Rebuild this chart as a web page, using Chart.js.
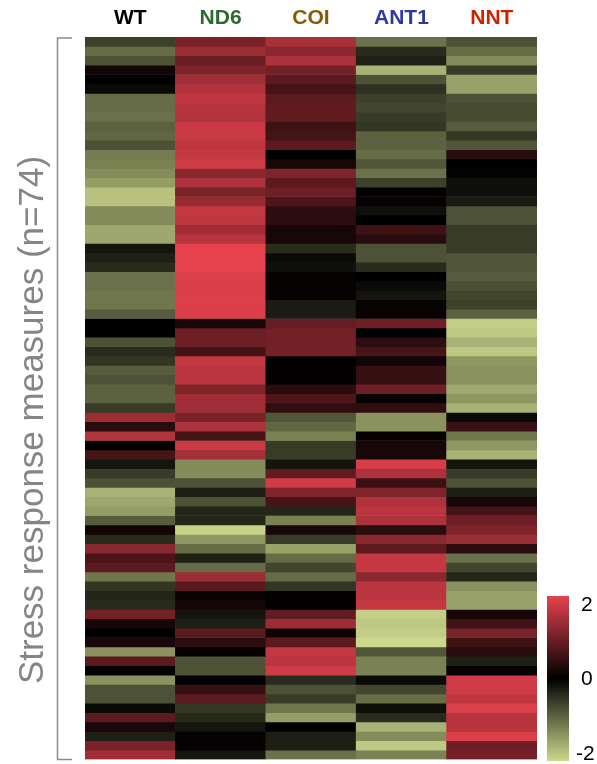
<!DOCTYPE html>
<html>
<head>
<meta charset="utf-8">
<script src="https://cdn.jsdelivr.net/npm/chart.js@4.4.1/dist/chart.umd.min.js"></script>
<style>
  html, body { margin: 0; padding: 0; background: #fff; }
  canvas { display: block; }
</style>
</head>
<body>
<canvas id="heat" width="597" height="764"></canvas>
<script>
// columns (strains) and the label colour of each
var strains = ["WT", "ND6", "COI", "ANT1", "NNT"];
var strainColors = ["#000000", "#2d6a2d", "#8b5a00", "#2b3a9c", "#cc2200"];

// z-scores per row, one list per strain (top row first)
var wt = [-0.6, -1.0, -0.75, 0.15, 0, -0.1, -1.0, -1.0, -1.05, -0.9, -0.95, -0.75, -1.15, -1.2, -1.3, -1.45, -1.8, -1.8, -1.3, -1.3,
  -1.55, -1.55, -0.2, -0.3, -0.4, -1.05, -1.05, -1.1, -1.1, -0.85, 0, 0, -0.75, -0.4, -0.5, -0.85, -0.75, -0.9, -0.9, -0.55,
  1.35, 0.35, 1.55, 0, 0.6, -0.2, -0.55, -0.75, -1.65, -1.55, -1.45, -0.85, 0.15, -0.4, 1.2, 0.65, 0.78, -1.1, -0.5, -0.35,
  -0.4, 1.0, 0.2, 0, 0.22, -1.35, 0.78, 0.03, -1.35, -0.75, -0.75, -0.1, 0.78, 0.22, -0.3, 1.05, 1.4];
var nd6 = [1.05, 1.35, 0.9, 1.1, 1.4, 1.55, 1.65, 1.6, 1.55, 1.75, 1.75, 1.65, 1.7, 1.8, 1.2, 1.5, 1.05, 1.3, 1.7, 1.65,
  1.4, 1.6, 2.0, 2.0, 2.0, 1.9, 1.9, 1.9, 1.9, 1.9, 0.2, 0.95, 0.95, 0.58, 1.7, 1.62, 1.62, 1.1, 1.4, 1.4,
  1.05, 1.5, 0.6, 1.75, 1.42, -1.3, -1.3, -0.75, -0.28, -0.75, -0.35, -0.35, -1.95, -1.4, -1.0, -0.3, -1.0, 1.35, 0.78, 0.08,
  0.2, -0.2, -0.3, 0.78, 0.38, 0.05, -0.75, -0.75, 0.03, 0.48, 0.78, -0.5, -0.38, -0.2, 0.03, 0.05, -0.2];
var coi = [1.45, 1.2, 1.5, 1.0, 0.8, 0.6, 0.8, 0.85, 0.85, 0.55, 0.58, 0.8, 0.02, 0.2, 1.1, 0.8, 0.95, 0.65, 0.4, 0.4,
  0.2, 0.2, -0.4, -0.1, -0.15, 0.05, 0.05, 0.05, -0.25, -0.25, 0.87, 1.0, 1.0, 1.0, 0.03, 0.03, 0.03, 0.35, 0.68, 0.42,
  -0.8, -0.95, -1.2, -0.55, -0.55, -0.2, 0.85, 1.8, 1.1, 0.6, -0.35, -1.2, 0.2, -0.55, -1.5, -1.0, -0.65, -1.0, -0.5, 0.03,
  0.03, 0.85, 1.35, 0.12, 0.78, 1.7, 1.62, 1.8, -0.4, -0.75, -0.55, -1.1, -1.45, 0.0, -0.28, -0.28, -1.05];
var ant1 = [-1.05, -0.4, -0.3, -1.65, -0.75, -0.45, -0.6, -0.65, -0.55, -0.5, -0.9, -0.9, -1.0, -0.8, -1.05, -0.6, 0.02, 0.05, -0.15, 0.0,
  0.55, 0.35, -0.75, -0.75, -0.4, 0.0, -0.1, -0.2, 0.07, 0.07, 0.95, 0, 0.4, 0.62, 0.15, 0.48, 0.48, 0.95, 0.05, 0.42,
  -1.35, -1.35, 0.05, 0.2, 0.2, 1.85, 1.5, 0.52, 1.1, 1.5, 1.62, 1.5, 0.35, 1.2, 0.8, 1.7, 1.7, 1.2, 1.62, 1.62,
  1.7, -1.9, -1.85, -1.9, -2.0, -0.8, -1.2, -1.2, -0.1, -0.65, -1.0, -0.15, -0.4, -1.65, -1.3, -1.85, -1.2];
var nnt = [-0.75, -1.0, -1.3, -0.55, -1.5, -1.5, -0.75, -0.7, -0.7, -0.85, -0.5, -0.8, 0.35, 0.0, 0.05, -0.15, -0.15, -0.25, -0.75, -0.75,
  -0.55, -0.55, -0.55, -0.8, -0.8, -0.85, -0.75, -0.65, -0.6, -0.9, -1.9, -1.85, -1.65, -1.85, -1.4, -1.35, -1.35, -1.55, -1.4, -1.65,
  -0.1, 0.48, -1.1, -1.4, -1.65, -0.2, -0.55, -0.75, -0.28, 0.2, 0.6, 0.95, 1.1, 1.35, 0.38, -1.05, -0.65, -0.35, -1.35, -1.5,
  -1.5, 0.2, 0.55, 1.05, 0.55, 0.35, -0.3, 0.03, 1.8, 1.8, 1.65, 1.9, 1.6, 1.6, 1.9, 0.95, 1.0];

// colour key
var keyTicks = [2, 0, -2];

var HIGH = [230, 66, 78];
var LOW = [204, 216, 140];

function colorFor(v) {
  var t = Math.max(-1, Math.min(1, v / 2));
  var c = t >= 0 ? HIGH : LOW;
  var a = Math.abs(t);
  return "rgb(" + Math.round(c[0] * a) + "," + Math.round(c[1] * a) + "," + Math.round(c[2] * a) + ")";
}

var columns = [wt, nd6, coi, ant1, nnt];
var nRows = wt.length;

// one stacked dataset per row, each cell height 1
var datasets = [];
for (var i = 0; i < nRows; i++) {
  var cells = [];
  var cols = [];
  for (var j = 0; j < columns.length; j++) {
    cells.push(1);
    cols.push(colorFor(columns[j][i]));
  }
  datasets.push({
    data: cells,
    backgroundColor: cols,
    borderWidth: 0,
    barPercentage: 1,
    categoryPercentage: 1
  });
}

var extras = {
  id: "extras",
  afterDraw: function (chart) {
    var ctx = chart.ctx;
    var area = chart.chartArea;

    // bracket on the left
    ctx.save();
    ctx.strokeStyle = "#8a8a8a";
    ctx.lineWidth = 1.5;
    ctx.beginPath();
    ctx.moveTo(area.left - 13, area.top + 1);
    ctx.lineTo(area.left - 27.5, area.top + 1);
    ctx.lineTo(area.left - 27.5, area.bottom);
    ctx.lineTo(area.left - 13, area.bottom);
    ctx.stroke();
    ctx.restore();

    // vertical axis title
    ctx.save();
    ctx.translate(43, 420);
    ctx.rotate(-Math.PI / 2);
    ctx.font = '35px "Liberation Sans", Arial, sans-serif';
    ctx.fillStyle = "#858585";
    ctx.textAlign = "center";
    ctx.textBaseline = "alphabetic";
    ctx.fillText("Stress response measures (n=74)", 0, 0);
    ctx.restore();

    // colour key
    var kx = area.right + 10, kw = 22, ky = 596, kh = 165;
    var g = ctx.createLinearGradient(0, ky, 0, ky + kh);
    g.addColorStop(0, colorFor(2));
    g.addColorStop(0.5, colorFor(0));
    g.addColorStop(1, colorFor(-2));
    ctx.save();
    ctx.fillStyle = g;
    ctx.fillRect(kx, ky, kw, kh);
    ctx.font = '21px "Liberation Sans", Arial, sans-serif';
    ctx.fillStyle = "#000";
    ctx.textAlign = "left";
    ctx.textBaseline = "middle";
    var inTop = ky + 9, inBot = ky + kh - 7;
    for (var k = 0; k < keyTicks.length; k++) {
      var v = keyTicks[k];
      var y = inTop + (2 - v) / 4 * (inBot - inTop);
      ctx.fillText(String(v), kx + (v < 0 ? 29 : 34), y);
    }
    ctx.restore();
  }
};

new Chart(document.getElementById("heat"), {
  type: "bar",
  data: { labels: strains, datasets: datasets },
  options: {
    responsive: false,
    animation: false,
    layout: { padding: { left: 85, right: 60, top: 0, bottom: 4.5 } },
    plugins: { legend: { display: false }, tooltip: { enabled: false } },
    scales: {
      x: {
        position: "top",
        stacked: true,
        grid: { display: false, drawTicks: false },
        border: { display: false },
        ticks: {
          padding: 6,
          font: { family: '"Liberation Sans", Arial, sans-serif', size: 21, weight: "bold" },
          color: function (c) { return strainColors[c.index]; }
        },
        afterFit: function (scale) { scale.height = 37; }
      },
      y: {
        display: false,
        stacked: true,
        reverse: true,
        min: 0,
        max: nRows
      }
    }
  },
  plugins: [extras]
});
</script>
</body>
</html>
